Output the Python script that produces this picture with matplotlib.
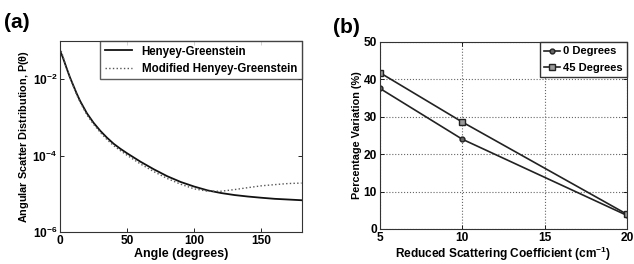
import numpy as np
import matplotlib
matplotlib.use("Agg")
import matplotlib.pyplot as plt
from matplotlib.ticker import FixedLocator, NullLocator

plt.rcParams['font.family'] = ['Liberation Sans', 'DejaVu Sans']
plt.rcParams['font.weight'] = 'bold'
plt.rcParams['mathtext.fontset'] = 'custom'
plt.rcParams['mathtext.rm'] = 'Liberation Sans:bold'
plt.rcParams['mathtext.bf'] = 'Liberation Sans:bold'
plt.rcParams['mathtext.default'] = 'bf'

# (a) angular scatter distribution
angle = [0, 2, 5, 7.5, 10, 12.5, 15, 20, 25, 30, 35, 40, 45, 50, 60, 70,
         80, 90, 100, 110, 120, 130, 140, 150, 160, 170, 180]
hg = [5.62e-2, 3.80e-2, 1.91e-2, 1.10e-2, 6.76e-3, 4.17e-3, 2.69e-3,
      1.29e-3, 7.24e-4, 4.47e-4, 2.95e-4, 2.04e-4, 1.51e-4, 1.15e-4,
      6.92e-5, 4.37e-5, 2.88e-5, 2.04e-5, 1.55e-5, 1.23e-5, 1.05e-5,
      9.3e-6, 8.5e-6, 7.9e-6, 7.4e-6, 7.1e-6, 6.8e-6]
mhg = [6.76e-2, 4.17e-2, 1.91e-2, 1.07e-2, 6.46e-3, 3.89e-3, 2.51e-3,
       1.17e-3, 6.61e-4, 4.07e-4, 2.63e-4, 1.82e-4, 1.35e-4, 1.02e-4,
       6.03e-5, 3.80e-5, 2.51e-5, 1.78e-5, 1.35e-5, 1.17e-5, 1.17e-5,
       1.29e-5, 1.45e-5, 1.62e-5, 1.74e-5, 1.86e-5, 1.91e-5]

# (b) percentage variation
mus = [5, 10, 20]
var0 = [37.6, 24.0, 3.6]
var45 = [41.8, 28.6, 3.9]

fig = plt.figure(figsize=(6.34, 2.64), dpi=100)

ax1 = fig.add_axes([0.0946, 0.121, 0.381, 0.724])
ax1.semilogy(angle, hg, color='#111111', lw=1.3, label='Henyey-Greenstein')
ax1.semilogy(angle, mhg, color='#555555', lw=1.0, ls=':', label='Modified Henyey-Greenstein')
ax1.set_xlim(0, 180)
ax1.set_ylim(1e-6, 1e-1)
ax1.xaxis.set_major_locator(FixedLocator([0, 50, 100, 150]))
ax1.yaxis.set_major_locator(FixedLocator([1e-6, 1e-4, 1e-2]))
ax1.yaxis.set_minor_locator(NullLocator())
ax1.set_xlabel('Angle (degrees)', fontsize=9, fontweight='bold', labelpad=1)
ax1.set_ylabel(r'Angular Scatter Distribution, P($\theta$)', fontsize=7.8,
               fontweight='bold', labelpad=1)
ax1.legend(loc='upper right', fontsize=8.3, frameon=True, fancybox=False,
           edgecolor='#333333', borderpad=0.4, labelspacing=0.45,
           handlelength=2.4, borderaxespad=0.0)
fig.text(0.006, 0.895, '(a)', fontsize=15, fontweight='bold')

ax2 = fig.add_axes([0.599, 0.133, 0.390, 0.708])
ax2.plot(mus, var0, color='#222222', lw=1.2, marker='o', ms=3.5,
         mfc='#666666', mec='#222222', label='0 Degrees')
ax2.plot(mus, var45, color='#222222', lw=1.2, marker='s', ms=4,
         mfc='#999999', mec='#222222', label='45 Degrees')
ax2.set_xlim(5, 20)
ax2.set_ylim(0, 50)
ax2.xaxis.set_major_locator(FixedLocator([5, 10, 15, 20]))
ax2.yaxis.set_major_locator(FixedLocator([0, 10, 20, 30, 40, 50]))
ax2.grid(True, ls=':', color='#666666', lw=0.8)
ax2.set_xlabel(r'Reduced Scattering Coefficient (cm$^{-1}$)', fontsize=8.6,
               fontweight='bold', labelpad=1)
ax2.set_ylabel('Percentage Variation (%)', fontsize=7.8, fontweight='bold', labelpad=1)
ax2.legend(loc='upper right', fontsize=8.0, frameon=True, fancybox=False,
           edgecolor='#333333', borderpad=0.4, labelspacing=0.55,
           handlelength=1.4, handletextpad=0.3, borderaxespad=0.0, framealpha=1)
fig.text(0.525, 0.875, '(b)', fontsize=15, fontweight='bold')

for ax in (ax1, ax2):
    ax.tick_params(direction='in', length=3, width=0.6, labelsize=8.6,
                   top=True, right=True, pad=2)
    for s in ax.spines.values():
        s.set_color('#333333')
        s.set_linewidth(0.8)
    for lab in ax.get_xticklabels() + ax.get_yticklabels():
        lab.set_fontweight('bold')

fig.savefig('out.png', dpi=100)
